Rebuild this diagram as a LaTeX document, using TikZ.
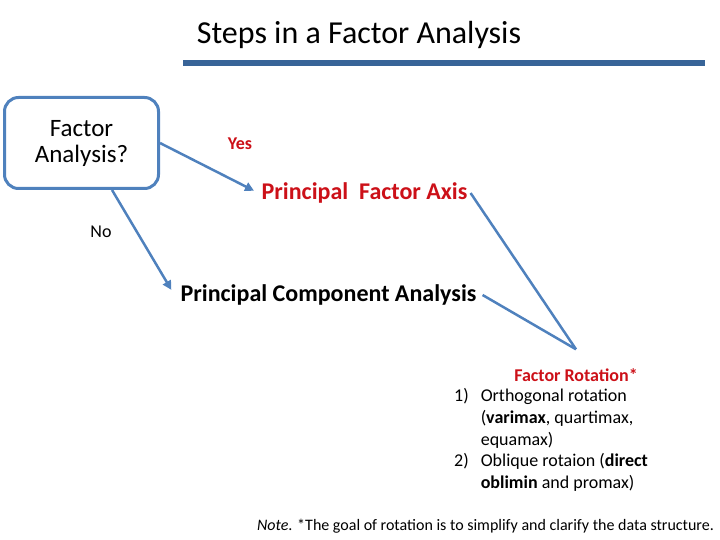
\documentclass[tikz,border=0pt]{standalone}
\usepackage{fontspec}
\setmainfont{Carlito}
\usetikzlibrary{positioning,arrows.meta}
\definecolor{lineblue}{RGB}{79,129,189}
\definecolor{barblue}{RGB}{56,100,152}
\definecolor{hired}{RGB}{204,16,24}

\begin{document}
\begin{tikzpicture}[x=1pt,y=-1pt]
\tikzstyle{flow} = [draw=lineblue, line width=2.5pt, -{Triangle[length=9pt,width=9pt]}];
\tikzstyle{vline} = [draw=lineblue, line width=2.5pt];
\tikzstyle{stage} = [font=\fontsize{24}{29}\selectfont\bfseries, inner sep=3pt];
\tikzstyle{lbl} = [font=\fontsize{18}{21}\selectfont, inner sep=1pt];

\useasboundingbox (0,0) rectangle (720,540);

% title and bar
\node[font=\fontsize{32}{38}\selectfont] (title) at (359,35) {Steps in a Factor Analysis};
\draw[barblue, line width=6pt] (183,63) -- (705,63);

% decision
\node[draw=lineblue, line width=3pt, rounded corners=14pt, minimum width=154pt,
      minimum height=91pt, align=center, font=\fontsize{25}{26}\selectfont] (fa) at (81.5,143) {Factor\\Analysis?};

\node[lbl, text=hired, font=\fontsize{18}{21}\selectfont\bfseries] (yes) at (240,144) {Yes};
\node[lbl] (no) at (101,232) {No};

\node[stage, text=hired] (pfa) at (364.5,193) {Principal\ \ Factor Axis};
\node[stage, inner xsep=6pt] (pca) at (328.5,295) {Principal Component Analysis};

% rotation
\node[lbl, text=hired, font=\fontsize{18}{21}\selectfont\bfseries, inner ysep=19pt] (rot) at (576,375) {Factor Rotation*};
\node[anchor=north west, inner sep=0pt, font=\fontsize{18}{21.8}\selectfont] (rotlist) at (454,386)
  {\begin{tabular}{@{}l@{\hspace{12pt}}l@{}}
   1) & Orthogonal rotation\\
      & (\textbf{varimax}, quartimax,\\
      & equamax)\\
   2) & Oblique rotaion (\textbf{direct}\\
      & \textbf{oblimin} and promax)
   \end{tabular}};

\node[font=\fontsize{16}{19}\selectfont, inner sep=0pt] (note) at (485.5,526)
  {\textit{Note}. *The goal of rotation is to simplify and clarify the data structure.};

% connectors
\draw[flow, shorten >=5pt] (fa.east) -- (pfa.west);
\draw[flow, shorten >=6pt] (fa.303) -- (pca.west);
\draw[vline] (pfa.east) -- (rot.north);
\draw[vline] (pca.east) -- (rot.north);
\end{tikzpicture}
\end{document}
